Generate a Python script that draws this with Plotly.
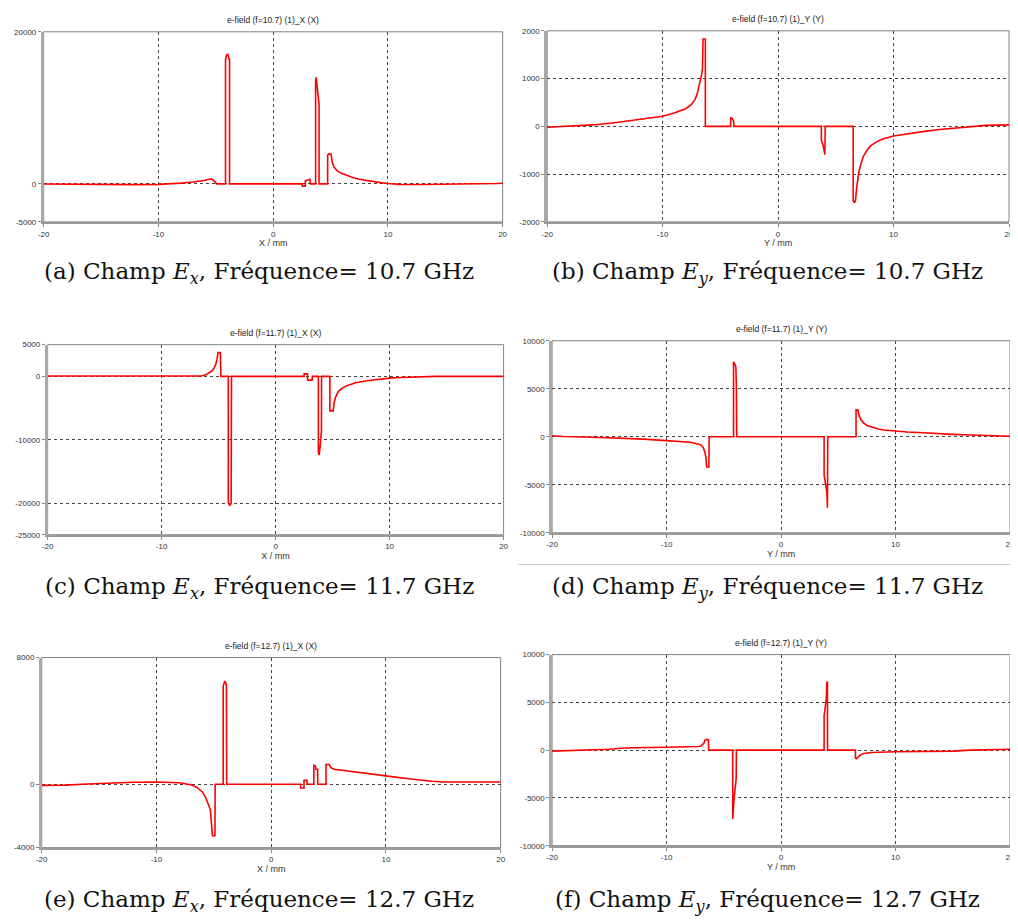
import plotly.graph_objects as go

# ---------------- data ----------------
# (a) Ex, f = 10.7 GHz
A_X = [-20, -18, -16, -14, -12, -10, -9, -8, -7, -6, -5.5, -5.3, -5.1, -4.9, -4.15, -4.15, -4.05, -3.95, -3.85, -3.8, -3.8,
       2.5, 2.55, 2.8, 2.8, 2.95, 3.15, 3.2, 3.25, 3.7, 3.7, 3.75, 3.82, 3.9, 3.95, 4.0, 4.0,
       4.75, 4.75, 4.85, 5.05, 5.15, 5.3, 5.6, 6.0, 6.5, 7.0, 7.5, 8.0, 8.5, 9.0, 9.5, 10, 11, 13, 16, 17, 19.5, 20]
A_Y = [-20, -50, -80, -110, -100, -60, 0, 100, 250, 450, 650, 620, 300, 0, 0, 16400, 17000, 17000, 16400, 16400, 0,
       0, -300, -300, 400, 500, 600, 600, 0, 0, 13500, 14000, 13000, 11500, 11000, 10500, 0,
       0, 3800, 3950, 3900, 2800, 2200, 1700, 1350, 1050, 800, 620, 480, 340, 230, 130, 50, -60, -80, -60, 0, 50, 80]

# (b) Ey, f = 10.7 GHz
B_X = [-20, -18, -16, -14, -12, -10, -9, -8, -7.5, -7.2, -7.0, -6.8, -6.65, -6.55, -6.5, -6.3, -6.3,
       -4.1, -4.1, -3.95, -3.85, -3.82, 3.75, 3.75, 3.9, 4.05, 4.08,
       6.5, 6.5, 6.6, 6.7, 6.8, 6.9, 7.0, 7.2, 7.4, 7.7, 8.0, 8.5, 9.0, 10, 11, 12, 13, 14, 15, 16, 17, 18, 20]
B_Y = [-20, 0, 30, 80, 140, 210, 280, 370, 460, 560, 680, 860, 1050, 1200, 1830, 1830, 0,
       0, 190, 160, 110, 0, 0, -290, -400, -590, 0,
       0, -1550, -1600, -1550, -1300, -1120, -950, -760, -620, -500, -410, -330, -270, -200, -160, -125, -95, -65, -40, -15, 10, 20, 30]

# (c) Ex, f = 11.7 GHz
C_X = [-20, -16, -12, -9, -7, -6.5, -6.2, -5.9, -5.6, -5.4, -5.25, -5.15, -5.08, -5.05, -4.85, -4.8,
       -4.15, -4.15, -4.0, -3.9, -3.87, 2.5, 2.5, 2.8, 2.8, 3.2, 3.22,
       3.75, 3.75, 3.82, 3.88, 3.95, 4.02, 4.03, 4.76, 4.76, 5.05, 5.12, 5.25, 5.5, 5.8, 6.2, 7.0, 8.0, 9.0, 10, 11, 12, 13, 14, 20]
C_Y = [50, 60, 80, 50, 30, 60, 200, 450, 800, 1300, 1900, 2600, 3300, 3750, 3750, 0,
       0, -20000, -20400, -20000, 0, 0, 400, 400, -600, -600, 0,
       0, -12000, -12400, -11500, -9000, -8700, 0, 0, -5450, -5450, -4300, -3300, -2400, -1900, -1500, -1000, -680, -450, -280, -170, -80, -20, 0, 0]

# (d) Ey, f = 11.7 GHz
D_X = [-20, -19, -17, -15, -13, -12, -10, -9, -8, -7.5, -7.0, -6.8, -6.65, -6.55, -6.5, -6.3, -6.28,
       -4.15, -4.15, -4.05, -3.95, -3.9, -3.87, 3.76, 3.76, 3.9, 4.0, 4.05, 4.08,
       6.55, 6.55, 6.7, 6.85, 7.0, 7.2, 7.5, 8.0, 8.5, 9.0, 10, 11, 12, 13, 14, 15, 16, 17, 18, 18.5, 19, 20]
D_Y = [100, 30, -20, -100, -200, -250, -400, -480, -570, -680, -850, -1100, -1600, -2300, -3150, -3150, 0,
       0, 7800, 7600, 7300, 5000, 0, 0, -4000, -5000, -5700, -7400, 0,
       0, 2800, 2800, 2100, 1750, 1450, 1180, 950, 800, 700, 580, 500, 440, 360, 300, 250, 210, 180, 150, 140, 80, 50]

# (e) Ex, f = 12.7 GHz
E_X = [-20, -18, -16, -14, -12, -10, -9, -8, -7.5, -7.0, -6.5, -6.0, -5.7, -5.5, -5.3, -5.2, -5.12, -4.9, -4.88,
       -4.18, -4.18, -4.05, -3.95, -3.9, -3.88, 2.57, 2.57, 2.86, 2.86, 3.12, 3.14,
       3.72, 3.72, 3.85, 3.9, 4.05, 4.06, 4.78, 4.78, 5.05, 5.2, 5.5, 6.0, 7.0, 8.0, 9.0, 10, 11, 12, 13, 14, 15, 17, 20]
E_Y = [-70, -50, 20, 80, 130, 150, 140, 100, 40, -30, -180, -480, -850, -1250, -1600, -2500, -3250, -3250, 0,
       0, 6200, 6500, 6400, 6200, 0, 0, -230, -230, 250, 250, 0,
       0, 1200, 1150, 950, 950, 0, 0, 1250, 1250, 1050, 950, 900, 830, 720, 620, 520, 440, 350, 260, 190, 150, 140, 150]

# (f) Ey, f = 12.7 GHz
F_X = [-20, -18, -17, -15, -14, -13, -10, -8, -7.2, -7.0, -6.85, -6.75, -6.65, -6.55, -6.35, -6.32,
       -4.22, -4.22, -4.1, -4.0, -3.92, -3.9, 3.76, 3.76, 3.85, 3.95, 4.0, 4.05, 4.06,
       6.5, 6.5, 6.6, 6.75, 6.9, 7.2, 7.9, 10, 13, 15, 16.5, 18, 20]
F_Y = [-100, -30, 40, 100, 200, 250, 300, 320, 380, 420, 550, 700, 1050, 1100, 1100, 0,
       0, -7200, -5000, -4000, -3000, 0, 0, 3600, 4500, 5300, 7100, 7100, 0,
       0, -850, -900, -700, -520, -350, -240, -170, -140, -100, 0, 40, 100]

X_TICKS = [-20, -10, 0, 10, 20]
TITLES = ["e-field (f=10.7) (1)_X (X)", "e-field (f=10.7) (1)_Y (Y)",
          "e-field (f=11.7) (1)_X (X)", "e-field (f=11.7) (1)_Y (Y)",
          "e-field (f=12.7) (1)_X (X)", "e-field (f=12.7) (1)_Y (Y)"]
X_LABELS = ["X / mm", "Y / mm", "X / mm", "Y / mm", "X / mm", "Y / mm"]
Y_RANGES = [(-5000, 20000), (-2000, 2000), (-25000, 5000), (-10000, 10000), (-4000, 8000), (-10000, 10000)]
Y_TICKS = [[-5000, 0, 20000], [-2000, -1000, 0, 1000, 2000], [-25000, -20000, -10000, 0, 5000],
           [-10000, -5000, 0, 5000, 10000], [-4000, 0, 8000], [-10000, -5000, 0, 5000, 10000]]
CAPTIONS = ["(a) Champ <i>E<sub>x</sub></i>, Fréquence= 10.7 GHz",
            "(b) Champ <i>E<sub>y</sub></i>, Fréquence= 10.7 GHz",
            "(c) Champ <i>E<sub>x</sub></i>, Fréquence= 11.7 GHz",
            "(d) Champ <i>E<sub>y</sub></i>, Fréquence= 11.7 GHz",
            "(e) Champ <i>E<sub>x</sub></i>, Fréquence= 12.7 GHz",
            "(f) Champ <i>E<sub>y</sub></i>, Fréquence= 12.7 GHz"]
SERIES = [(A_X, A_Y), (B_X, B_Y), (C_X, C_Y), (D_X, D_Y), (E_X, E_Y), (F_X, F_Y)]

# ---------------- layout (pixel boxes in page coordinates) ----------------
OFF = 8  # default page body margin
W, H = 1018 - OFF, 920 - OFF
BOXES = [(38, 502, 28, 220), (547, 1014, 27, 220),
         (42, 503, 344, 536), (552, 1015, 340, 534),
         (36, 500, 660, 852), (552, 1015, 657, 850)]
CAP_POS = [(256, 272), (770, 272), (256, 590), (770, 590), (256, 906), (770, 906)]


def px(v):
    return (v - OFF) / W


def py(v):
    return 1 - (v - OFF) / H


fig = go.Figure()
TICKFONT = dict(family="Liberation Sans", size=8, color="#333333")
annotations = []
shapes = []

for i, ((xs, ys), box) in enumerate(zip(SERIES, BOXES)):
    n = i + 1
    sfx = "" if n == 1 else str(n)
    x0, x1, y0, y1 = box
    fig.add_trace(go.Scatter(x=xs, y=ys, mode="lines", line=dict(color="#ff0000", width=1.6),
                             xaxis="x" + sfx, yaxis="y" + sfx, showlegend=False, hoverinfo="skip"))
    fig.update_layout(**{
        "xaxis" + sfx: dict(domain=[px(x0), min(px(x1), 1)], range=[-20, 20], anchor="y" + sfx,
                            tickvals=X_TICKS, ticktext=[str(v) for v in X_TICKS],
                            showgrid=True, gridcolor="#444444", griddash="dot", gridwidth=1,
                            zeroline=False, showline=True, linecolor="#9a9a9a", linewidth=2,
                            ticks="outside", ticklen=3, tickcolor="#888888", tickfont=TICKFONT,
                            title=dict(text=X_LABELS[i], font=dict(family="Liberation Sans", size=9, color="#333333"), standoff=2),
                            fixedrange=True),
        "yaxis" + sfx: dict(domain=[py(y1), py(y0)], range=list(Y_RANGES[i]), anchor="x" + sfx,
                            tickvals=Y_TICKS[i], ticktext=[str(v) for v in Y_TICKS[i]],
                            showgrid=True, gridcolor="#444444", griddash="dot", gridwidth=1,
                            zeroline=False, showline=True, linecolor="#a8a8a8", linewidth=2.5,
                            ticks="outside", ticklen=3, tickcolor="#888888", tickfont=TICKFONT,
                            fixedrange=True),
    })
    shapes.append(dict(type="rect", xref="x%s domain" % sfx, yref="y%s domain" % sfx,
                       x0=0, x1=1, y0=0, y1=1, line=dict(color="#808080", width=1), layer="below"))
    annotations.append(dict(text=TITLES[i], x=px((x0 + x1) / 2), y=py(y0 - 12),
                            xref="paper", yref="paper", showarrow=False, xanchor="center", yanchor="middle",
                            font=dict(family="Liberation Sans", size=8.5, color="#222222")))
    cx, cy = CAP_POS[i]
    annotations.append(dict(text=CAPTIONS[i], x=px(cx), y=py(cy), xref="paper", yref="paper",
                            showarrow=False, xanchor="center", yanchor="middle",
                            font=dict(family="DejaVu Serif", size=23, color="#111111")))

shapes.append(dict(type="line", xref="paper", yref="paper", x0=px(518), x1=1, y0=py(566), y1=py(566),
                   line=dict(color="#c8c8c8", width=1)))

fig.update_layout(width=W, height=H, margin=dict(l=0, r=0, t=0, b=0),
                  paper_bgcolor="white", plot_bgcolor="white",
                  annotations=annotations, shapes=shapes)

fig.write_html("out.html")
